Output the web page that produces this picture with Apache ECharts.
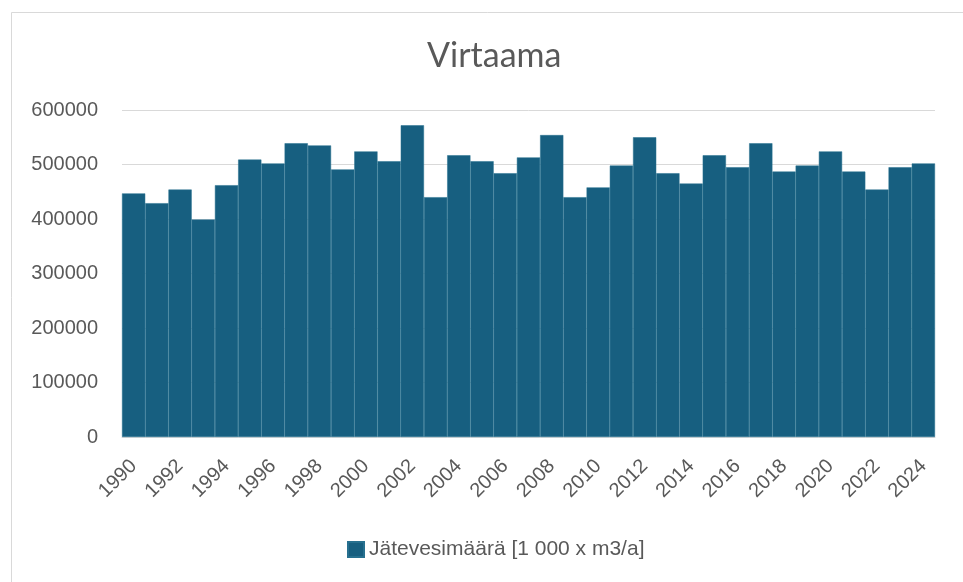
<!DOCTYPE html>
<html>
<head>
<meta charset="utf-8">
<script src="https://cdn.jsdelivr.net/npm/echarts@6/dist/echarts.min.js"></script>
<style>html,body{margin:0;padding:0;background:#fff}#c{width:963px;height:582px}</style>
</head>
<body>
<div id="c"></div>
<script>
const years = ['1990','1991','1992','1993','1994','1995','1996','1997','1998','1999','2000','2001','2002','2003','2004','2005','2006','2007','2008','2009','2010','2011','2012','2013','2014','2015','2016','2017','2018','2019','2020','2021','2022','2023','2024'];
const values = [447000,429000,454000,399000,462000,509000,502000,539000,535000,491000,524000,506000,572000,440000,517000,506000,484000,513000,554000,440000,458000,498000,550000,484000,465000,517000,495000,539000,487000,498000,524000,487000,454000,495000,502000];
const seriesName = 'Jätevesimäärä [1 000 x m3/a]';
const titleText = 'Virtaama';

const chart = echarts.init(document.getElementById('c'));
chart.setOption({
  animation: false,
  backgroundColor: '#fff',
  graphic: [{
    type: 'rect', shape: {x: 11.5, y: 12.5, width: 1000, height: 700},
    style: {fill: 'none', stroke: '#d9d9d9', lineWidth: 1}, silent: true, z: -1
  }],
  title: {
    text: titleText, left: 422, top: 34,
    textStyle: {fontFamily: 'Lato, sans-serif', fontSize: 34, fontWeight: 'normal', color: '#595959'}
  },
  legend: {
    data: [seriesName], bottom: 17, left: 342,
    itemWidth: 16, itemHeight: 15, icon: 'rect', itemGap: 4,
    textStyle: {fontFamily: 'Liberation Sans, Arial, sans-serif', fontSize: 21, color: '#595959'}
  },
  grid: {left: 122, right: 28, top: 110, bottom: 145},
  xAxis: {
    type: 'category', data: years,
    axisTick: {show: false},
    axisLine: {show: true, lineStyle: {color: '#d9d9d9'}},
    axisLabel: {interval: 1, rotate: 45, fontSize: 20, color: '#595959', margin: 26,
      fontFamily: 'Liberation Sans, Arial, sans-serif'}
  },
  yAxis: {
    type: 'value', min: 0, max: 600000, interval: 100000,
    axisLine: {show: false}, axisTick: {show: false},
    splitLine: {lineStyle: {color: '#d9d9d9', width: 1}},
    axisLabel: {fontSize: 20, color: '#595959', margin: 24,
      fontFamily: 'Liberation Sans, Arial, sans-serif',
      formatter: v => String(v)}
  },
  series: [{
    name: seriesName, type: 'bar', data: values,
    barCategoryGap: '0%',
    itemStyle: {color: '#175f80', borderColor: '#27708f', borderWidth: 0.5}
  }]
});
</script>
</body>
</html>
